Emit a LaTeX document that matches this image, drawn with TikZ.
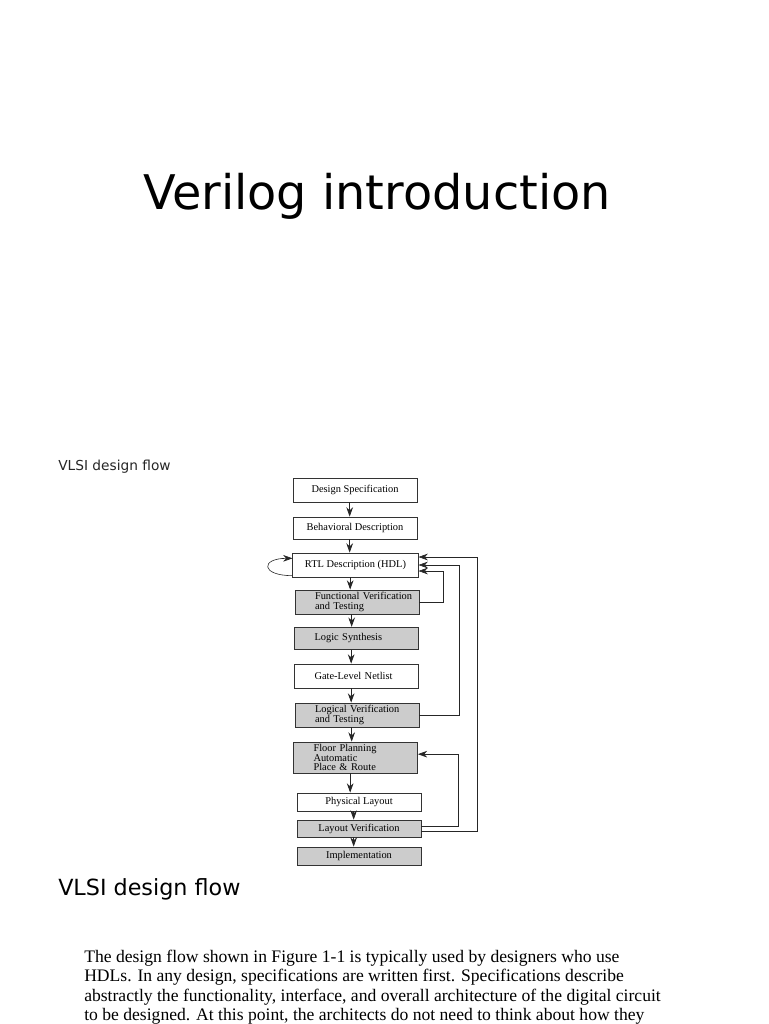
\documentclass[tikz,border=0pt]{standalone}
\usepackage{fontspec}
\setmainfont{Liberation Serif}
\newfontfamily\slidefont{DejaVu Sans}
\usetikzlibrary{arrows.meta}
\tikzset{
  box/.style={draw=black!80, line width=0.55pt, minimum width=93pt, inner sep=1pt,
    font=\fontsize{7.8}{7}\selectfont, align=center},
  shaded/.style={box, fill=black!20},
  lbox/.style={align=left, text width=87pt, inner xsep=3pt, execute at begin node={\leftskip=12pt}},
  arr/.style={-{Stealth[length=7pt,width=5pt]}, line width=0.6pt, black!85},
  fb/.style={arr, line width=0.45pt},
  para/.style={anchor=base west, inner sep=0pt, font=\fontsize{13.2}{15}\selectfont},
}
\begin{document}
\begin{tikzpicture}[x=0.75pt, y=-0.75pt]
  \useasboundingbox (0,0) rectangle (768,1024);
  % slide headings
  \node[anchor=base west, inner sep=0pt, font=\slidefont\fontsize{35.8}{40}\selectfont] (title) at (143,209) {Verilog introduction};
  \node[anchor=base west, inner sep=0pt, black!85, font=\slidefont\fontsize{10.3}{12}\selectfont] (cap) at (58,470) {VLSI design flow};
  \node[anchor=base west, inner sep=0pt, font=\slidefont\fontsize{16.7}{20}\selectfont] (head) at (58,895) {VLSI design flow};
  % flow boxes
  \node[box, minimum height=18pt] (ds) at (355,490) {Design Specification};
  \node[box, minimum height=16.5pt] (bd) at (355,528) {Behavioral Description};
  \node[box, minimum height=18pt, minimum width=94pt] (rtl) at (355.5,565) {RTL Description (HDL)};
  \node[shaded, lbox, minimum height=18pt] (fv) at (357,602) {Functional Verification\\and Testing};
  \node[shaded, lbox, minimum height=17pt] (ls) at (356.5,638.5) {Logic Synthesis};
  \node[box, lbox, minimum height=18pt] (gn) at (356.5,676) {Gate-Level Netlist};
  \node[shaded, lbox, minimum height=18pt] (lv) at (357,715) {Logical Verification\\and Testing};
  \node[shaded, lbox, minimum height=23.25pt] (fp) at (355.5,757.5) {Floor Planning\\Automatic\\Place \& Route};
  \node[box, minimum height=13.5pt] (pl) at (359,802) {Physical Layout};
  \node[shaded, minimum height=12.75pt] (lyv) at (359,828.5) {Layout Verification};
  \node[shaded, minimum height=13.5pt] (im) at (359,856) {Implementation};
  % main flow
  \foreach \a/\b in {ds/bd,bd/rtl,rtl/fv,fv/ls,ls/gn,gn/lv,lv/fp,fp/pl,pl/lyv,lyv/im}
    \draw[arr] ([xshift=-4pt]\a.south) -- ([xshift=-4pt]\a.south |- \b.north);
  % feedback loops
  \draw[fb] (fv.east) -- ++(24,0) |- ([yshift=-4.5pt]rtl.east);
  \draw[fb] (lv.east) -- ++(40,0) |- (rtl.east);
  \draw[fb] ([yshift=-2pt]lyv.east) -- ++(56,0) |- ([yshift=6pt]rtl.east);
  \draw[fb] ([yshift=2pt]lyv.east) -- ++(37,0) |- ([yshift=2.5pt]fp.east);
  \draw[fb] ([yshift=-8pt]rtl.west) .. controls +(-32,0) and +(-32,0) .. ([yshift=5pt]rtl.west);
  % text under the heading
  \foreach \i/\t in {0/{The design flow shown in Figure 1-1 is typically used by designers who use},
                     1/{HDLs. In any design, specifications are written first. Specifications describe},
                     2/{abstractly the functionality, interface, and overall architecture of the digital circuit},
                     3/{to be designed. At this point, the architects do not need to think about how they}}
    \node[para] (p\i) at (84,962+\i*19.5) {\t};
\end{tikzpicture}
\end{document}
